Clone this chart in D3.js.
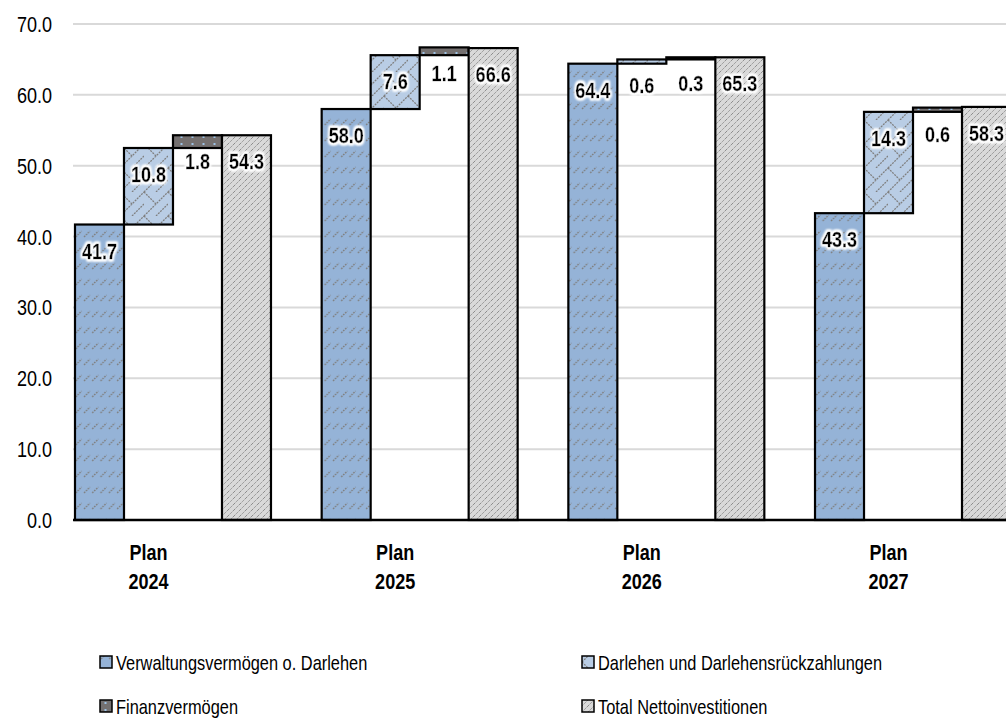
<!DOCTYPE html>
<html>
<head>
<meta charset="utf-8">
<script src="https://cdn.jsdelivr.net/npm/d3@7"></script>
<style>
  html, body { margin: 0; padding: 0; background: #fff; overflow: hidden; }
  svg { display: block; }
  .narrow { font-family: "Liberation Sans", Arial, sans-serif; }
</style>
</head>
<body>
<svg id="chart" width="1006" height="720"></svg>
<script>
const categories = ["Plan 2024", "Plan 2025", "Plan 2026", "Plan 2027"];
const seriesNames = ["Verwaltungsvermögen o. Darlehen", "Darlehen und Darlehensrückzahlungen", "Finanzvermögen", "Total Nettoinvestitionen"];
const verwaltung = [41.7, 58.0, 64.4, 43.3];
const darlehen = [10.8, 7.6, 0.6, 14.3];
const finanz = [1.8, 1.1, 0.3, 0.6];
const total = [54.3, 66.6, 65.3, 58.3];
const yTicks = [0, 10, 20, 30, 40, 50, 60, 70];

const svg = d3.select("#chart");
const plotLeft = 73, plotRight = 1006, plotTop = 24, plotBottom = 520;
const SX = 0.82; // emulate a condensed face

const y = d3.scaleLinear().domain([0, 70]).range([plotBottom, plotTop]);
const x = d3.scaleBand().domain(categories).range([75, 1011]).paddingInner(0.2055).paddingOuter(0).align(0);
const keys = ["v", "d", "f", "t"];
const xs = d3.scaleBand().domain(keys).range([0, x.bandwidth()]).padding(0);

const defs = svg.append("defs");
const p1 = defs.append("pattern").attr("id", "patV").attr("patternUnits", "userSpaceOnUse")
  .attr("width", 8.3).attr("height", 16);
p1.append("rect").attr("width", 8.3).attr("height", 16).attr("fill", "#95b3d7");
p1.append("path").attr("d", "M1,13 L7,7").attr("stroke", "#7f7f7f").attr("stroke-width", 1.4)
  .attr("stroke-dasharray", "1.6,1.1").attr("fill", "none");
const p2 = defs.append("pattern").attr("id", "patD").attr("patternUnits", "userSpaceOnUse")
  .attr("width", 24).attr("height", 24);
p2.append("rect").attr("width", 24).attr("height", 24).attr("fill", "#b9cde5");
p2.append("path").attr("d", "M0,24 L24,0 M0,0 L12,12 M12,24 L24,12 M-1,1 L1,-1 M23,25 L25,23")
  .attr("stroke", "#7f7f7f").attr("stroke-width", 1.3).attr("stroke-dasharray", "2,1").attr("fill", "none");
const p3 = defs.append("pattern").attr("id", "patF").attr("patternUnits", "userSpaceOnUse")
  .attr("width", 11).attr("height", 7);
p3.append("rect").attr("width", 11).attr("height", 7).attr("fill", "#747070");
p3.append("rect").attr("x", 4.5).attr("y", 3).attr("width", 2).attr("height", 2).attr("fill", "#9dc3e6");
const p4 = defs.append("pattern").attr("id", "patT").attr("patternUnits", "userSpaceOnUse")
  .attr("width", 6).attr("height", 6);
p4.append("rect").attr("width", 6).attr("height", 6).attr("fill", "#d9d9d9");
p4.append("path").attr("d", "M0,6 L6,0 M-1,1 L1,-1 M5,7 L7,5").attr("stroke", "#8c8c8c").attr("stroke-width", 1)
  .attr("stroke-dasharray", "1.5,0.8").attr("fill", "none");

const f = defs.append("filter").attr("id", "glow").attr("x", "-30%").attr("y", "-40%").attr("width", "160%").attr("height", "180%");
f.append("feMorphology").attr("in", "SourceAlpha").attr("operator", "dilate").attr("radius", 1.6).attr("result", "d");
f.append("feGaussianBlur").attr("in", "d").attr("stdDeviation", 1.3).attr("result", "b");
f.append("feFlood").attr("flood-color", "#ffffff").attr("result", "w");
f.append("feComposite").attr("in", "w").attr("in2", "b").attr("operator", "in").attr("result", "g");
const fm = f.append("feMerge");
fm.append("feMergeNode").attr("in", "g");
fm.append("feMergeNode").attr("in", "g");
fm.append("feMergeNode").attr("in", "SourceGraphic");

const at = (px, py) => `translate(${px},${py}) scale(${SX},1)`;

// gridlines
svg.append("g").selectAll("line").data(yTicks.filter(t => t > 0)).join("line")
  .attr("x1", plotLeft).attr("x2", plotRight)
  .attr("y1", d => y(d)).attr("y2", d => y(d))
  .attr("stroke", "#d9d9d9").attr("stroke-width", 2);

// y tick labels
svg.append("g").attr("class", "narrow").selectAll("text").data(yTicks).join("text")
  .attr("transform", d => at(52, y(d) + 8))
  .attr("text-anchor", "end").attr("font-size", 22).attr("fill", "#000")
  .text(d => d.toFixed(1));

const patterns = { v: "url(#patV)", d: "url(#patD)", f: "url(#patF)", t: "url(#patT)" };
const bars = [];
categories.forEach((c, i) => {
  const v = verwaltung[i], d = darlehen[i], fv = finanz[i], t = total[i];
  bars.push({ c, k: "v", y0: 0, y1: v, val: v });
  bars.push({ c, k: "d", y0: v, y1: v + d, val: d });
  bars.push({ c, k: "f", y0: v + d, y1: v + d + fv, val: fv });
  bars.push({ c, k: "t", y0: 0, y1: t, val: t });
});

svg.append("g").selectAll("rect").data(bars).join("rect")
  .attr("x", d => x(d.c) + xs(d.k))
  .attr("width", xs.bandwidth())
  .attr("y", d => y(d.y1))
  .attr("height", d => y(d.y0) - y(d.y1))
  .attr("fill", d => patterns[d.k])
  .attr("stroke", "#000").attr("stroke-width", 2.2);

svg.append("line").attr("x1", plotLeft).attr("x2", plotRight)
  .attr("y1", plotBottom).attr("y2", plotBottom)
  .attr("stroke", "#000").attr("stroke-width", 2.5);

// data labels
svg.append("g").attr("class", "narrow").selectAll("text").data(bars).join("text")
  .attr("transform", d => at(x(d.c) + xs(d.k) + xs.bandwidth() / 2, y(d.y1) + 34))
  .attr("text-anchor", "middle").attr("font-size", 22).attr("font-weight", "bold")
  .attr("fill", "#000").attr("stroke", "#000").attr("stroke-width", 0.3).attr("filter", "url(#glow)")
  .text(d => d.val.toFixed(1));

// category labels
const cg = svg.append("g").attr("class", "narrow").selectAll("g").data(categories).join("g");
cg.append("text").attr("transform", d => at(x(d) + xs("d") + xs.bandwidth() / 2, 560))
  .attr("text-anchor", "middle").attr("font-size", 22).attr("font-weight", "bold").text(d => d.split(" ")[0]);
cg.append("text").attr("transform", d => at(x(d) + xs("d") + xs.bandwidth() / 2, 589))
  .attr("text-anchor", "middle").attr("font-size", 22).attr("font-weight", "bold").text(d => d.split(" ")[1]);

// legend
const legendPos = [[100, 662], [582, 662], [100, 706], [582, 706]];
const lg = svg.append("g").attr("class", "narrow").selectAll("g").data(seriesNames).join("g")
  .attr("transform", (d, i) => `translate(${legendPos[i][0]},${legendPos[i][1]})`);
lg.append("rect").attr("x", 0).attr("y", -6).attr("width", 12).attr("height", 12)
  .attr("fill", (d, i) => patterns[keys[i]]).attr("stroke", "#000").attr("stroke-width", 1.5);
lg.append("text").attr("transform", at(16, 8)).attr("font-size", 20).attr("fill", "#000").text(d => d);
</script>
</body>
</html>
